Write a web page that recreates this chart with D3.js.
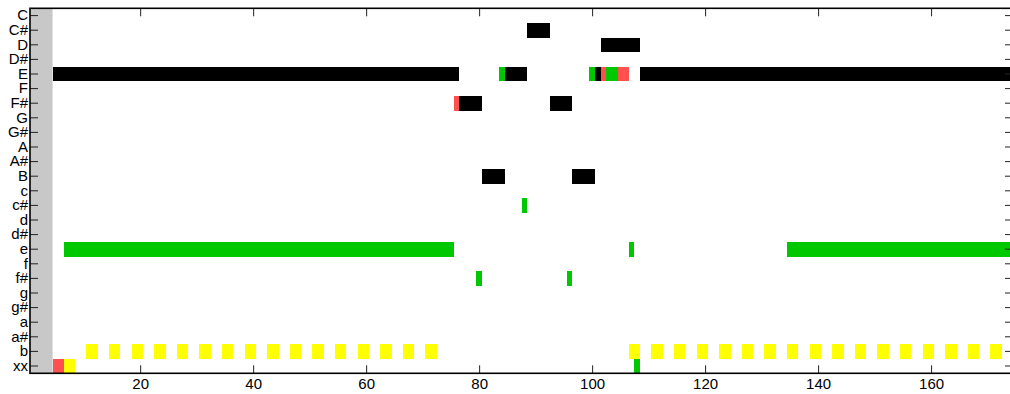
<!DOCTYPE html>
<html>
<head>
<meta charset="utf-8">
<script src="https://cdn.jsdelivr.net/npm/d3@7"></script>
<style>
  html, body { margin: 0; padding: 0; background: #fff; }
  svg { display: block; }
  text { font-family: "Liberation Sans", Arial, sans-serif; }
</style>
</head>
<body>
<svg id="chart" width="1010" height="394"></svg>
<script>
// ---- data ----
const rows = ["C","C#","D","D#","E","F","F#","G","G#","A","A#","B",
              "c","c#","d","d#","e","f","f#","g","g#","a","a#","b","xx"];
const xTicks = [20, 40, 60, 80, 100, 120, 140, 160];
const xDomain = [0.5, 174.5];
const greyColumn = [1, 4];            // first..last cell of the grey band

// runs: [row, firstCell, lastCell]
const blackRuns = [
  ["E", 5, 76], ["E", 85, 88], ["E", 101, 101], ["E", 109, 174],
  ["C#", 89, 92],
  ["D", 102, 108],
  ["F#", 77, 80], ["F#", 93, 96],
  ["B", 81, 84], ["B", 97, 100]
];
const greenRuns = [
  ["E", 84, 84], ["E", 100, 100], ["E", 103, 104],
  ["c#", 88, 88],
  ["e", 7, 75], ["e", 107, 107], ["e", 135, 174],
  ["f#", 80, 80], ["f#", 96, 96],
  ["xx", 108, 108]
];
const redRuns = [
  ["E", 102, 102], ["E", 105, 106],
  ["F#", 76, 76],
  ["xx", 5, 6]
];
const yellowRuns = [
  ["xx", 7, 8],
  ["b", 11, 12], ["b", 15, 16], ["b", 19, 20], ["b", 23, 24], ["b", 27, 28],
  ["b", 31, 32], ["b", 35, 36], ["b", 39, 40], ["b", 43, 44], ["b", 47, 48],
  ["b", 51, 52], ["b", 55, 56], ["b", 59, 60], ["b", 63, 64], ["b", 67, 68],
  ["b", 71, 72],
  ["b", 107, 108], ["b", 111, 112], ["b", 115, 116], ["b", 119, 120],
  ["b", 123, 124], ["b", 127, 128], ["b", 131, 132], ["b", 135, 136],
  ["b", 139, 140], ["b", 143, 144], ["b", 147, 148], ["b", 151, 152],
  ["b", 155, 156], ["b", 159, 160], ["b", 163, 164], ["b", 167, 168],
  ["b", 171, 172]
];

// ---- layout ----
const mLeft = 30, mRight = 1013, mTop = 8.3, mBottom = 373.3;
const svg = d3.select("#chart");

const x = d3.scaleLinear().domain(xDomain).range([mLeft, mRight]);
const y = d3.scaleBand().domain(rows).range([mTop, mBottom]).padding(0);

const plot = svg.append("g");
plot.append("defs").append("clipPath").attr("id", "clip")
  .append("rect").attr("x", mLeft).attr("y", mTop)
  .attr("width", mRight - mLeft).attr("height", mBottom - mTop);

const cells = plot.append("g").attr("clip-path", "url(#clip)");

cells.append("rect")
  .attr("x", x(greyColumn[0] - 0.5))
  .attr("y", mTop)
  .attr("width", x(greyColumn[1] + 0.5) - x(greyColumn[0] - 0.5))
  .attr("height", mBottom - mTop)
  .attr("fill", "#c8c8c8");

function drawRuns(data, color) {
  cells.append("g").selectAll("rect").data(data).join("rect")
    .attr("x", d => x(d[1] - 0.5))
    .attr("y", d => y(d[0]))
    .attr("width", d => x(d[2] + 0.5) - x(d[1] - 0.5))
    .attr("height", y.bandwidth())
    .attr("fill", color)
    .attr("shape-rendering", "crispEdges");
}
drawRuns(blackRuns, "#000000");
drawRuns(greenRuns, "#00c800");
drawRuns(redRuns, "#ff5050");
drawRuns(yellowRuns, "#ffff00");

// ---- axes ----
const tickLen = 8;
const bottomAxis = d3.axisBottom(x).tickValues(xTicks).tickSizeInner(-tickLen)
  .tickSizeOuter(0).tickPadding(5);
const topAxis = d3.axisTop(x).tickValues(xTicks).tickSizeInner(-tickLen)
  .tickSizeOuter(0).tickFormat("");
const leftAxis = d3.axisLeft(y).tickSizeInner(-tickLen).tickSizeOuter(0).tickPadding(2);
const rightAxis = d3.axisRight(y).tickSizeInner(-tickLen).tickSizeOuter(0).tickFormat("");

function style(g) {
  g.select(".domain").remove();
  g.selectAll(".tick line").attr("stroke", "#222").attr("stroke-width", 1);
  g.selectAll("text").attr("font-size", 15).attr("fill", "#000")
    .attr("font-family", "'Liberation Sans', Arial, sans-serif");
}

svg.append("g").attr("transform", `translate(0,${mBottom})`).call(bottomAxis).call(style);
svg.append("g").attr("transform", `translate(0,${mTop})`).call(topAxis).call(style);
svg.append("g").attr("transform", `translate(${mLeft},0)`).call(leftAxis).call(style);
svg.append("g").attr("transform", `translate(${mRight},0)`).call(rightAxis).call(style);

// frame
svg.append("rect")
  .attr("x", mLeft).attr("y", mTop)
  .attr("width", mRight - mLeft).attr("height", mBottom - mTop)
  .attr("fill", "none").attr("stroke", "#000").attr("stroke-width", 1.6);
</script>
</body>
</html>
